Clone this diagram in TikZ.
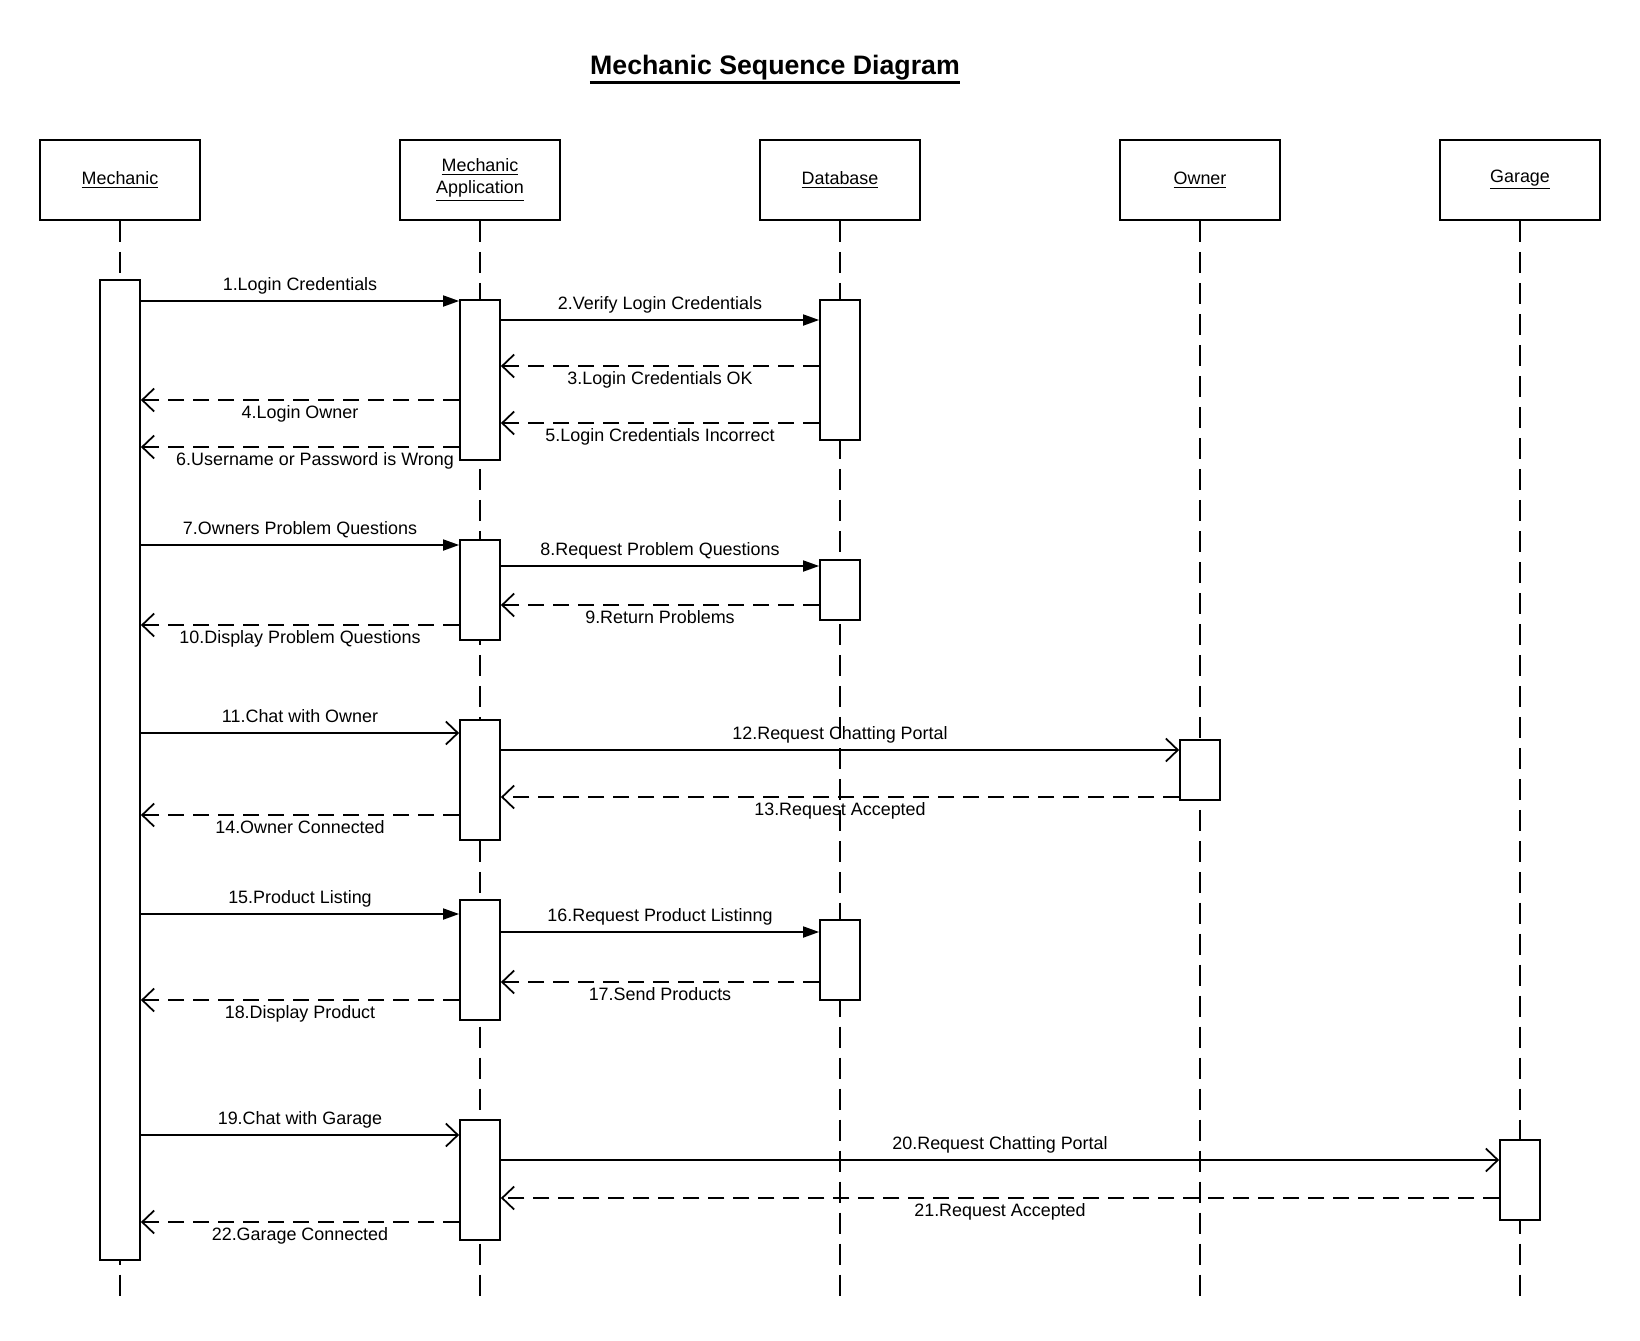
\documentclass[tikz,border=0pt]{standalone}
\usepackage{fontspec}
\setmainfont{Liberation Sans}
\usepackage{tikz}
\usetikzlibrary{arrows.meta,positioning}
\newcommand{\msgfont}{\fontsize{10.2}{12.5}\selectfont}
\newcommand{\titlefont}{\fontsize{15.2}{18}\selectfont\bfseries}
\tikzstyle{actor}=[draw, line width=1pt, minimum width=3.2cm, minimum height=1.6cm, align=center, inner sep=0pt]
\tikzstyle{lifeline}=[line width=0.9pt, dash pattern=on 0.42cm off 0.2cm]
\tikzstyle{activation}=[draw, fill=white, line width=1pt, minimum width=0.8cm, inner sep=0pt]
\tikzstyle{sync}=[line width=1pt, -{Triangle[length=0.32cm,width=0.22cm]}]
\tikzstyle{async}=[line width=1pt, -{Straight Barb[length=0.24cm,width=0.46cm]}]
\tikzstyle{reply}=[async, dash pattern=on 0.32cm off 0.18cm]
\tikzstyle{over}=[above=0.12cm, inner sep=0pt, text height=0.26cm, text depth=0.08cm]
\tikzstyle{under}=[below=0.1cm, inner sep=0pt, text height=0.26cm, text depth=0.08cm]

\begin{document}
\begin{tikzpicture}[x=0.02cm, y=-0.02cm, every node/.style={font=\msgfont}]
	\useasboundingbox (0,0) rectangle (1640,1340);
	\node[font=\titlefont, inner sep=0pt] (title) at (775,68) {Mechanic Sequence Diagram};
	\draw[line width=1.4pt]([yshift=-1pt]title.south west)--([yshift=-1pt]title.south east);
	% participants
	\node[actor] (M) at (120,180) {\underline{Mechanic}};
	\node[actor] (A) at (480,180) {\underline{Mechanic}\\\underline{Application}};
	\node[actor] (D) at (840,180) {\underline{Database}};
	\node[actor] (O) at (1200,180) {\underline{Owner}};
	\node[actor] (G) at (1520,180) {\raisebox{-1pt}{\underline{Garage}}};
	\coordinate (Mend) at (120,1300);
	\coordinate (Aend) at (480,1300);
	\coordinate (Dend) at (840,1300);
	\coordinate (Oend) at (1200,1300);
	\coordinate (Gend) at (1520,1300);
	\draw[lifeline](M)--(Mend);
	\draw[lifeline](A)--(Aend);
	\draw[lifeline](D)--(Dend);
	\draw[lifeline](O)--(Oend);
	\draw[lifeline](G)--(Gend);
	% activations
	\node[activation, minimum height=19.6cm] (mbar) at (120,770) {};
	\node[activation, minimum height=3.2cm] (a1) at (480,380) {};
	\node[activation, minimum height=2cm] (a2) at (480,590) {};
	\node[activation, minimum height=2.4cm] (a3) at (480,780) {};
	\node[activation, minimum height=2.4cm] (a4) at (480,960) {};
	\node[activation, minimum height=2.4cm] (a5) at (480,1180) {};
	\node[activation, minimum height=2.8cm] (d1) at (840,370) {};
	\node[activation, minimum height=1.2cm] (d2) at (840,590) {};
	\node[activation, minimum height=1.6cm] (d3) at (840,960) {};
	\node[activation, minimum height=1.2cm] (o1) at (1200,770) {};
	\node[activation, minimum height=1.6cm] (g1) at (1520,1180) {};
	% login
	\draw[sync](mbar.east|-0,301)--(a1.west|-0,301) node[over, midway]{1.Login Credentials};
	\draw[sync](a1.east|-0,320)--(d1.west|-0,320) node[over, midway]{2.Verify Login Credentials};
	\draw[reply](d1.west|-0,366)--(a1.east|-0,366) node[under, midway]{3.Login Credentials OK};
	\draw[reply](a1.west|-0,400)--(mbar.east|-0,400) node[under, midway]{4.Login Owner};
	\draw[reply](d1.west|-0,423)--(a1.east|-0,423) node[under, midway]{5.Login Credentials Incorrect};
	\draw[reply](a1.west|-0,447)--(mbar.east|-0,447) node[under, midway, xshift=0.3cm]{6.Username or Password is Wrong};
	% problem questions
	\draw[sync](mbar.east|-0,545)--(a2.west|-0,545) node[over, midway]{7.Owners Problem Questions};
	\draw[sync](a2.east|-0,566)--(d2.west|-0,566) node[over, midway]{8.Request Problem Questions};
	\draw[reply](d2.west|-0,605)--(a2.east|-0,605) node[under, midway]{9.Return Problems};
	\draw[reply](a2.west|-0,625)--(mbar.east|-0,625) node[under, midway]{10.Display Problem Questions};
	% owner chat
	\draw[async](mbar.east|-0,733)--(a3.west|-0,733) node[over, midway]{11.Chat with Owner};
	\draw[async](a3.east|-0,750)--(o1.west|-0,750) node[over, midway]{12.Request Chatting Portal};
	\draw[reply](o1.west|-0,797)--(a3.east|-0,797) node[under, midway]{13.Request Accepted};
	\draw[reply](a3.west|-0,815)--(mbar.east|-0,815) node[under, midway]{14.Owner Connected};
	% products
	\draw[sync](mbar.east|-0,914)--(a4.west|-0,914) node[over, midway]{15.Product Listing};
	\draw[sync](a4.east|-0,932)--(d3.west|-0,932) node[over, midway]{16.Request Product Listinng};
	\draw[reply](d3.west|-0,982)--(a4.east|-0,982) node[under, midway]{17.Send Products};
	\draw[reply](a4.west|-0,1000)--(mbar.east|-0,1000) node[under, midway]{18.Display Product};
	% garage chat
	\draw[async](mbar.east|-0,1135)--(a5.west|-0,1135) node[over, midway]{19.Chat with Garage};
	\draw[async](a5.east|-0,1160)--(g1.west|-0,1160) node[over, midway]{20.Request Chatting Portal};
	\draw[reply](g1.west|-0,1198)--(a5.east|-0,1198) node[under, midway]{21.Request Accepted};
	\draw[reply](a5.west|-0,1222)--(mbar.east|-0,1222) node[under, midway]{22.Garage Connected};
\end{tikzpicture}
\end{document}
